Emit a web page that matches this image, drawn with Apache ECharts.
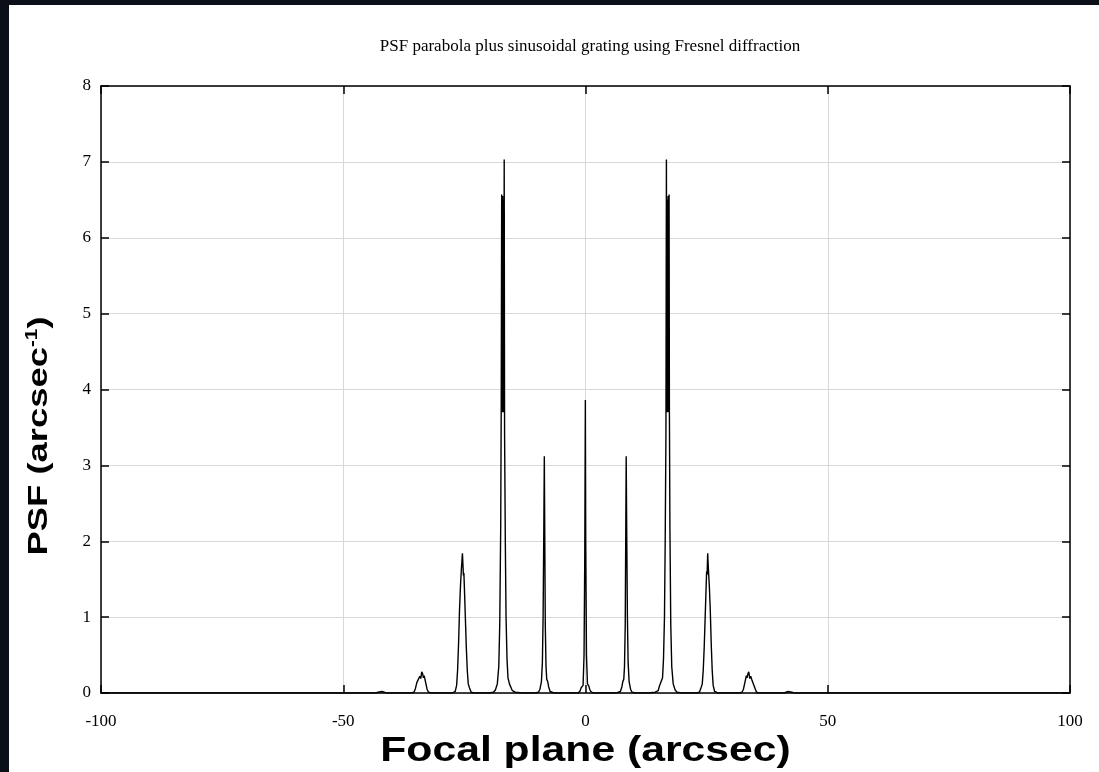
<!DOCTYPE html>
<html>
<head>
<meta charset="utf-8">
<script src="https://cdn.jsdelivr.net/npm/echarts@6/dist/echarts.min.js"></script>
<style>
  html, body { margin: 0; padding: 0; width: 1099px; height: 772px; background: #0b1018; overflow: hidden; }
  #chart { position: absolute; left: 9px; top: 5px; width: 1090px; height: 767px; background: #ffffff; }
</style>
</head>
<body>
<div id="chart"></div>
<script>
// ---- Data ----
const titleText = 'PSF parabola plus sinusoidal grating using Fresnel diffraction';
const xAxisTitle = 'Focal plane (arcsec)';
const yAxisTitleMain = 'PSF (arcsec';
const yAxisTitleSup = '-1';
const xTicks = [-100, -50, 0, 50, 100];
const yTicks = [0, 1, 2, 3, 4, 5, 6, 7, 8];

// Focal-plane positions (arcsec)
const focalX = [
  -100, -44,
  -43.3, -42.8, -42.4, -42.0, -41.6, -41.1,
  -36.0, -35.4, -35.1, -34.8, -34.5, -34.2, -34.0, -33.8, -33.6, -33.45, -33.3, -33.0, -32.7, -32.4, -31.8,
  -27.5, -26.9, -26.6, -26.4, -26.2, -26.0, -25.8, -25.6, -25.4, -25.3, -25.2, -25.1, -24.95, -24.8, -24.6, -24.4, -24.2, -23.95, -23.6, -23.0,
  -20.0, -19.0, -18.6, -18.2, -17.9, -17.7, -17.5, -17.4, -17.3, -17.25, -17.2, -17.15, -17.1, -17.05, -17.0, -16.95, -16.9, -16.85, -16.78, -16.7, -16.55, -16.4, -16.2, -16.0, -15.7, -15.4, -15.1, -14.5, -13.0,
  -10.5, -9.7, -9.4, -9.1, -8.9, -8.75, -8.6, -8.5, -8.4, -8.3, -8.15, -8.0, -7.8, -7.6, -7.3, -6.5,
  -1.5, -1.1, -0.9, -0.7, -0.5, -0.3, -0.15, -0.03, 0.05, 0.2, 0.4, 0.55, 0.7, 0.85, 1.1, 1.6,
  6.4, 7.2, 7.5, 7.7, 7.9, 8.05, 8.2, 8.3, 8.4, 8.5, 8.65, 8.8, 9.0, 9.3, 9.6, 10.4,
  12.9, 14.4, 15.0, 15.3, 15.6, 15.9, 16.1, 16.3, 16.45, 16.6, 16.7, 16.77, 16.85, 16.9, 16.95, 17.0, 17.05, 17.1, 17.15, 17.2, 17.25, 17.32, 17.42, 17.6, 17.8, 18.1, 18.5, 18.9, 19.9,
  22.9, 23.5, 23.85, 24.1, 24.3, 24.5, 24.7, 24.85, 25.0, 25.1, 25.22, 25.35, 25.55, 25.75, 25.95, 26.15, 26.35, 26.65, 27.3,
  31.7, 32.3, 32.6, 32.9, 33.2, 33.35, 33.5, 33.7, 33.9, 34.1, 34.4, 34.7, 35.0, 35.3, 35.9,
  41.0, 41.4, 41.8, 42.2, 42.6, 43.1,
  100
];

// PSF values (arcsec^-1)
const psf = [
  0, 0,
  0, 0.01, 0.02, 0.02, 0.01, 0,
  0, 0.01, 0.06, 0.14, 0.16, 0.22, 0.19, 0.28, 0.25, 0.2, 0.23, 0.14, 0.05, 0.01, 0,
  0, 0.02, 0.1, 0.3, 0.65, 1.1, 1.42, 1.65, 1.84, 1.7, 1.55, 1.58, 1.3, 1.0, 0.6, 0.3, 0.12, 0.07, 0.01, 0,
  0, 0.01, 0.04, 0.12, 0.35, 0.9, 2.2, 3.7, 6.57, 3.7, 6.5, 3.75, 6.55, 3.7, 6.5, 3.8, 6.45, 3.7, 7.03, 3.4, 2.0, 1.0, 0.45, 0.2, 0.12, 0.1, 0.03, 0.01, 0,
  0, 0.01, 0.05, 0.15, 0.4, 1.0, 2.2, 3.12, 2.0, 0.9, 0.35, 0.18, 0.15, 0.08, 0.02, 0,
  0, 0.03, 0.07, 0.06, 0.1, 0.5, 1.8, 3.86, 2.0, 0.5, 0.12, 0.1, 0.09, 0.05, 0.02, 0,
  0, 0.02, 0.08, 0.15, 0.18, 0.35, 0.9, 2.0, 3.12, 2.2, 1.0, 0.4, 0.15, 0.05, 0.01, 0,
  0, 0.01, 0.03, 0.1, 0.12, 0.2, 0.45, 1.0, 2.0, 3.4, 7.03, 3.7, 6.45, 3.8, 6.5, 3.7, 6.55, 3.75, 6.5, 3.7, 6.57, 3.7, 2.2, 0.9, 0.35, 0.12, 0.04, 0.01, 0,
  0, 0.01, 0.07, 0.12, 0.3, 0.6, 1.0, 1.3, 1.6, 1.56, 1.84, 1.65, 1.42, 1.1, 0.65, 0.3, 0.1, 0.02, 0,
  0, 0.01, 0.05, 0.14, 0.23, 0.2, 0.25, 0.28, 0.19, 0.22, 0.16, 0.14, 0.06, 0.01, 0,
  0, 0.01, 0.02, 0.02, 0.01, 0,
  0
];

const seriesData = focalX.map((x, i) => [x, psf[i]]);

const chart = echarts.init(document.getElementById('chart'), null, { renderer: 'canvas' });

const tickFont = { fontFamily: 'Liberation Serif', fontSize: 17, color: '#000' };
const boxLine = { show: true, onZero: false, lineStyle: { color: '#000', width: 1.5 } };
const innerTick = { show: true, inside: true, length: 8, lineStyle: { color: '#000', width: 1.5 } };

chart.setOption({
  animation: false,
  backgroundColor: '#ffffff',
  title: {
    text: titleText,
    left: 576,
    textAlign: 'center',
    top: 28,
    textStyle: { fontFamily: 'Liberation Serif', fontSize: 17, fontWeight: 'normal', color: '#000' }
  },
  grid: { left: 92, right: 29, top: 81, bottom: 79 },
  xAxis: [
    {
      type: 'value', position: 'bottom', min: xTicks[0], max: xTicks[xTicks.length - 1], interval: 50,
      axisLine: boxLine, axisTick: innerTick,
      axisLabel: Object.assign({ margin: 20 }, tickFont),
      splitLine: { show: true, lineStyle: { color: '#d9d9d9', width: 1 } }
    },
    {
      type: 'value', position: 'top', min: xTicks[0], max: xTicks[xTicks.length - 1], interval: 50,
      axisLine: boxLine, axisTick: innerTick, axisLabel: { show: false }, splitLine: { show: false }
    }
  ],
  yAxis: [
    {
      type: 'value', position: 'left', min: yTicks[0], max: yTicks[yTicks.length - 1], interval: 1,
      axisLine: boxLine, axisTick: innerTick,
      axisLabel: Object.assign({ margin: 10 }, tickFont),
      splitLine: { show: true, lineStyle: { color: '#d9d9d9', width: 1 } }
    },
    {
      type: 'value', position: 'right', min: yTicks[0], max: yTicks[yTicks.length - 1], interval: 1,
      axisLine: boxLine, axisTick: innerTick, axisLabel: { show: false }, splitLine: { show: false }
    }
  ],
  graphic: [
    {
      type: 'text',
      x: 576.5, y: 746,
      scaleX: 1.22,
      style: {
        text: xAxisTitle,
        fontFamily: 'Liberation Sans', fontWeight: 'bold', fontSize: 35,
        fill: '#000', align: 'center', verticalAlign: 'middle'
      }
    },
    {
      type: 'text',
      x: 30, y: 431,
      rotation: Math.PI / 2,
      scaleX: 1.3,
      style: {
        text: '{m|' + yAxisTitleMain + '}{s|' + yAxisTitleSup + '}{m|)}',
        fill: '#000', align: 'center', verticalAlign: 'middle',
        rich: {
          m: { fontFamily: 'Liberation Sans', fontWeight: 'bold', fontSize: 28, fill: '#000' },
          s: { fontFamily: 'Liberation Sans', fontWeight: 'bold', fontSize: 16, fill: '#000', padding: [0, 0, 12, 0] }
        }
      }
    }
  ],
  series: [
    {
      type: 'line',
      xAxisIndex: 0, yAxisIndex: 0,
      data: seriesData,
      showSymbol: false,
      symbol: 'none',
      lineStyle: { color: '#000', width: 1.4 },
      z: 5
    }
  ]
});
</script>
</body>
</html>
